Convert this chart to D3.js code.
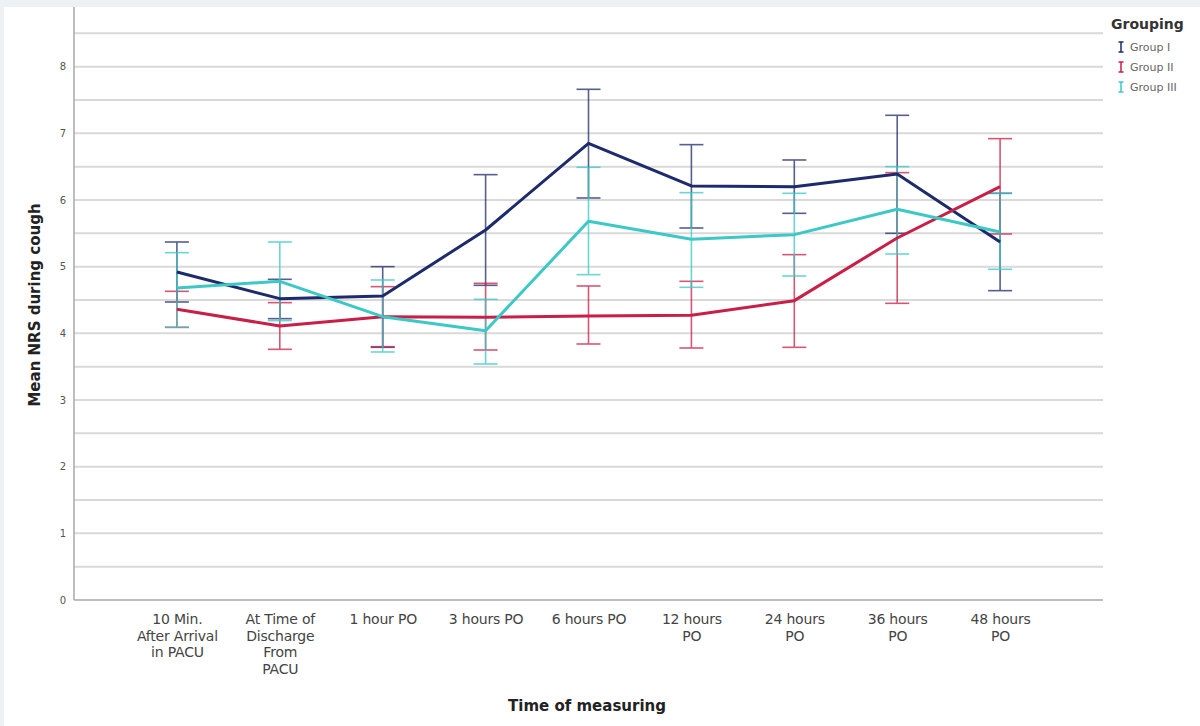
<!DOCTYPE html>
<html>
<head>
<meta charset="utf-8">
<script src="https://cdn.jsdelivr.net/npm/d3@7/dist/d3.min.js"></script>
<style>
  html, body { margin: 0; padding: 0; background: #eef1f4; }
  svg { display: block; }
</style>
</head>
<body>
<svg id="chart" width="1200" height="726"></svg>
<script>
// ---- data ----
const categories = [
  "10 Min.|After Arrival|in PACU",
  "At Time of|Discharge|From|PACU",
  "1 hour PO",
  "3 hours PO",
  "6 hours PO",
  "12 hours|PO",
  "24 hours|PO",
  "36 hours|PO",
  "48 hours|PO"
];
const groupNames = ["Group I", "Group II", "Group III"];
const groupColors = ["#1d2a6c", "#c81f47", "#3cc8c6"];

const group1Mean  = [4.92, 4.52, 4.56, 5.55, 6.85, 6.21, 6.20, 6.39, 5.37];
const group1Upper = [5.37, 4.81, 5.00, 6.38, 7.66, 6.83, 6.60, 7.27, 6.10];
const group1Lower = [4.47, 4.22, 3.79, 4.72, 6.03, 5.58, 5.80, 5.50, 4.64];

const group2Mean  = [4.36, 4.11, 4.25, 4.24, 4.26, 4.27, 4.49, 5.43, 6.20];
const group2Upper = [4.63, 4.46, 4.70, 4.75, 4.71, 4.78, 5.18, 6.41, 6.92];
const group2Lower = [4.09, 3.76, 3.80, 3.75, 3.84, 3.78, 3.79, 4.45, 5.49];

const group3Mean  = [4.68, 4.78, 4.25, 4.04, 5.68, 5.41, 5.48, 5.86, 5.52];
const group3Upper = [5.21, 5.37, 4.80, 4.51, 6.49, 6.11, 6.10, 6.50, 6.10];
const group3Lower = [4.09, 4.19, 3.72, 3.54, 4.88, 4.69, 4.86, 5.19, 4.96];

const yTicks = [0, 1, 2, 3, 4, 5, 6, 7, 8];
const yGrid = [0.5, 1, 1.5, 2, 2.5, 3, 3.5, 4, 4.5, 5, 5.5, 6, 6.5, 7, 7.5, 8, 8.5];

const series = [
  {name: groupNames[0], color: groupColors[0], mean: group1Mean, lo: group1Lower, hi: group1Upper},
  {name: groupNames[1], color: groupColors[1], mean: group2Mean, lo: group2Lower, hi: group2Upper},
  {name: groupNames[2], color: groupColors[2], mean: group3Mean, lo: group3Lower, hi: group3Upper}
];

// ---- layout ----
const svg = d3.select("#chart");
const plotLeft = 74, plotRight = 1103, plotTop = 7, plotBottom = 600;
const FONT = "'DejaVu Sans', Verdana, sans-serif";

// white panel
svg.append("rect").attr("x", 4).attr("y", 7).attr("width", 1196).attr("height", 719).attr("fill", "#ffffff");

const x = d3.scalePoint().domain(categories).range([plotLeft, plotRight]).padding(1);
const y = d3.scaleLinear().domain([0, 8]).range([plotBottom, plotBottom - 8 * 66.67]);

// gridlines
svg.append("g").selectAll("line").data(yGrid).join("line")
  .attr("x1", plotLeft).attr("x2", plotRight)
  .attr("y1", d => y(d)).attr("y2", d => y(d))
  .attr("stroke", "#d9d9d9").attr("stroke-width", 2);

// axes lines
svg.append("line").attr("x1", plotLeft).attr("x2", plotLeft).attr("y1", plotTop).attr("y2", plotBottom)
  .attr("stroke", "#a8a8a8").attr("stroke-width", 1.5);
svg.append("line").attr("x1", plotLeft).attr("x2", plotRight).attr("y1", plotBottom).attr("y2", plotBottom)
  .attr("stroke", "#a8a8a8").attr("stroke-width", 1.5);

// y tick labels
const yAxis = d3.axisLeft(y).tickValues(yTicks).tickSize(0).tickPadding(8).tickFormat(d3.format("d"));
const gy = svg.append("g").attr("transform", `translate(${plotLeft},0)`).call(yAxis);
gy.select(".domain").remove();
gy.selectAll("text").attr("font-family", FONT)
  .attr("font-size", 10).attr("fill", "#555");

// x tick labels (multi-line)
const xAxis = d3.axisBottom(x).tickSize(0).tickPadding(0).tickFormat(() => "");
const gx = svg.append("g").attr("transform", `translate(0,${plotBottom})`).call(xAxis);
gx.select(".domain").remove();
gx.selectAll(".tick").each(function(d) {
  const lines = d.split("|");
  const t = d3.select(this).select("text")
    .attr("font-family", FONT)
    .attr("font-size", 14).attr("fill", "#444")
    .attr("text-anchor", "middle").attr("dy", null).attr("y", 0)
    .attr("letter-spacing", -0.2);
  t.text(null);
  lines.forEach((ln, i) => {
    t.append("tspan").attr("x", 0).attr("y", 24 + i * 16.5).text(ln);
  });
});

// axis titles
svg.append("text").attr("x", 587).attr("y", 711).attr("text-anchor", "middle")
  .attr("font-family", FONT).attr("font-weight", "bold")
  .attr("font-size", 15).attr("fill", "#222").text("Time of measuring");
svg.append("text").attr("transform", "translate(40,305) rotate(-90)").attr("text-anchor", "middle")
  .attr("font-family", FONT).attr("font-weight", "bold")
  .attr("font-size", 15).attr("fill", "#222").text("Mean NRS during cough");

// error bars
const capW = 12;
series.forEach(s => {
  const g = svg.append("g").attr("stroke", s.color).attr("stroke-width", 1.6).attr("opacity", 0.75);
  categories.forEach((c, i) => {
    const cx = x(c);
    g.append("line").attr("x1", cx).attr("x2", cx).attr("y1", y(s.lo[i])).attr("y2", y(s.hi[i]));
    g.append("line").attr("x1", cx - capW).attr("x2", cx + capW).attr("y1", y(s.lo[i])).attr("y2", y(s.lo[i]));
    g.append("line").attr("x1", cx - capW).attr("x2", cx + capW).attr("y1", y(s.hi[i])).attr("y2", y(s.hi[i]));
  });
});

// mean lines
const line = d3.line().x((d, i) => x(categories[i])).y(d => y(d));
series.forEach(s => {
  svg.append("path").datum(s.mean).attr("d", line)
    .attr("fill", "none").attr("stroke", s.color).attr("stroke-width", 3)
    .attr("stroke-linejoin", "round");
});

// legend
svg.append("text").attr("x", 1111).attr("y", 29)
  .attr("font-family", FONT).attr("font-weight", "bold")
  .attr("font-size", 14).attr("fill", "#333").text("Grouping");
series.forEach((s, i) => {
  const ly = 47 + i * 20;
  const g = svg.append("g").attr("transform", `translate(1121,${ly})`);
  g.append("line").attr("x1", 0).attr("x2", 0).attr("y1", -5).attr("y2", 5).attr("stroke", s.color).attr("stroke-width", 1.5);
  g.append("line").attr("x1", -2.5).attr("x2", 2.5).attr("y1", -5).attr("y2", -5).attr("stroke", s.color).attr("stroke-width", 1.5);
  g.append("line").attr("x1", -2.5).attr("x2", 2.5).attr("y1", 5).attr("y2", 5).attr("stroke", s.color).attr("stroke-width", 1.5);
  g.append("text").attr("x", 9).attr("y", 4)
    .attr("font-family", FONT)
    .attr("font-size", 11).attr("fill", "#666").text(s.name);
});
</script>
</body>
</html>
